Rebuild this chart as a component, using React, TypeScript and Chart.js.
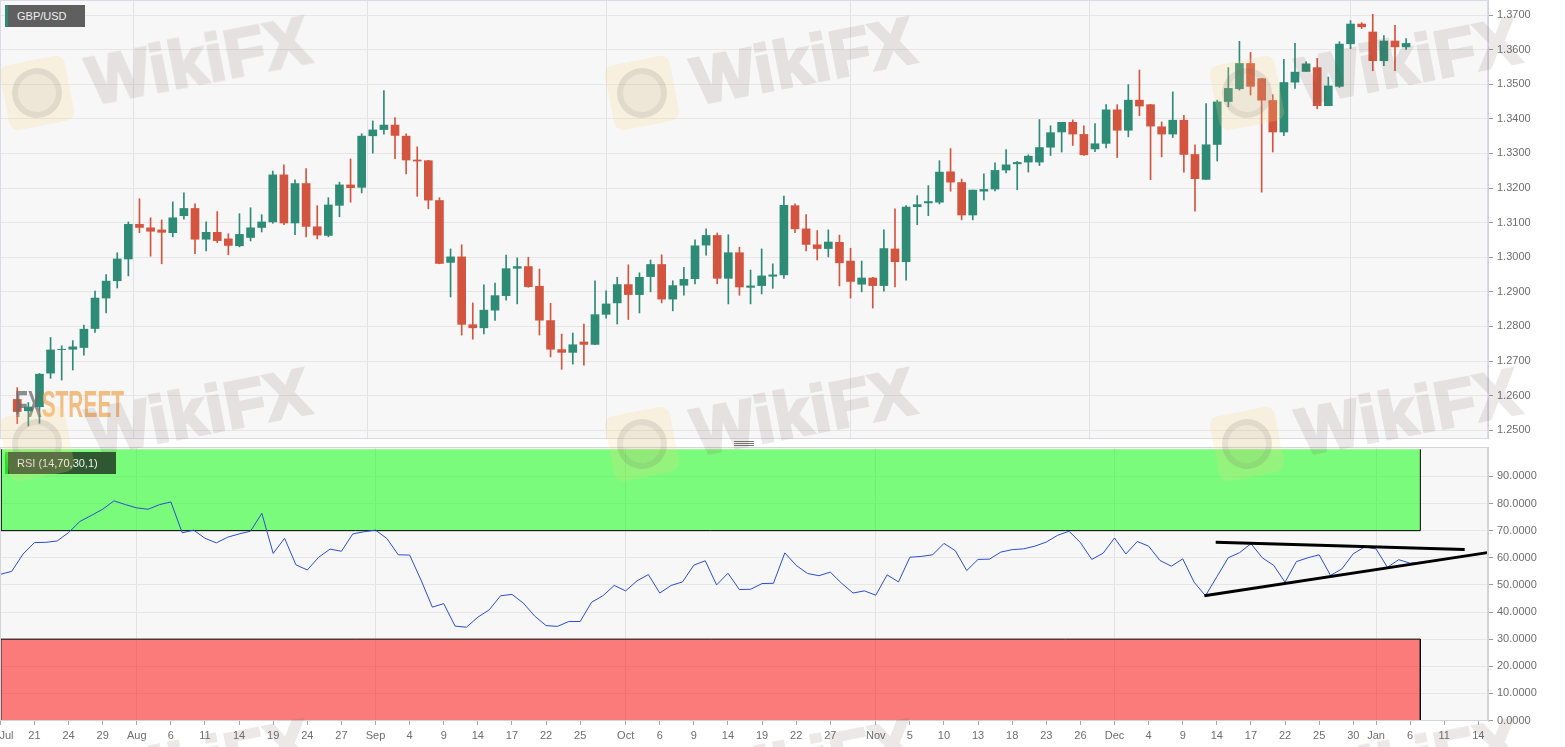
import React, { useEffect, useRef } from "react";
import { Chart, registerables } from "chart.js";

Chart.register(...registerables);

const opens = [1.2589,1.2556,1.2568,1.2665,1.2733,1.2734,1.2739,1.2794,1.2882,1.2932,1.2995,1.3095,1.3085,1.3079,1.3071,1.3120,1.3141,1.3052,1.3072,1.3053,1.3033,1.3057,1.3086,1.3102,1.3238,1.3099,1.3213,1.3088,1.3063,1.3150,1.3209,1.3202,1.3351,1.3369,1.3382,1.3350,1.3281,1.3279,1.3164,1.2985,1.3001,1.2805,1.2796,1.2847,1.2889,1.2968,1.2973,1.2916,1.2817,1.2733,1.2725,1.2755,1.2748,1.2835,1.2868,1.2921,1.2892,1.2944,1.2979,1.2879,1.2919,1.2938,1.3035,1.3063,1.2939,1.3013,1.2913,1.2918,1.2945,1.2949,1.3149,1.3082,1.3036,1.3025,1.3043,1.2989,1.2922,1.2940,1.2918,1.3024,1.2987,1.3146,1.3157,1.3159,1.3247,1.3216,1.3122,1.3191,1.3197,1.3252,1.3270,1.3275,1.3275,1.3318,1.3362,1.3390,1.3355,1.3313,1.3329,1.3426,1.3367,1.3454,1.3441,1.3377,1.3356,1.3396,1.3297,1.3225,1.3326,1.3450,1.3487,1.3560,1.3516,1.3453,1.3362,1.3506,1.3537,1.3548,1.3438,1.3494,1.3617,1.3674,1.3651,1.3568,1.3625,1.3608];
const highs = [1.2623,1.2580,1.2664,1.2768,1.2744,1.2759,1.2804,1.2902,1.2950,1.3013,1.3102,1.3169,1.3114,1.3108,1.3160,1.3186,1.3154,1.3102,1.3132,1.3068,1.3126,1.3143,1.3123,1.3249,1.3267,1.3224,1.3256,1.3149,1.3172,1.3217,1.3284,1.3357,1.3394,1.3482,1.3404,1.3357,1.3319,1.3280,1.3172,1.3024,1.3036,1.2868,1.2920,1.2925,1.3006,1.2998,1.3000,1.2966,1.2867,1.2778,1.2781,1.2807,1.2932,1.2903,1.2942,1.2978,1.2955,1.2992,1.3007,1.2932,1.2971,1.3050,1.3082,1.3070,1.3065,1.3029,1.2963,1.3024,1.2981,1.3177,1.3154,1.3123,1.3077,1.3079,1.3064,1.3026,1.2989,1.2942,1.3079,1.3140,1.3149,1.3178,1.3207,1.3279,1.3314,1.3226,1.3194,1.3241,1.3273,1.3311,1.3277,1.3296,1.3398,1.3380,1.3390,1.3397,1.3380,1.3386,1.3441,1.3441,1.3499,1.3541,1.3442,1.3391,1.3478,1.3410,1.3325,1.3444,1.3454,1.3548,1.3624,1.3592,1.3517,1.3470,1.3572,1.3618,1.3565,1.3575,1.3521,1.3623,1.3684,1.3678,1.3702,1.3641,1.3670,1.3632];
const lows = [1.2519,1.2512,1.2520,1.2650,1.2645,1.2674,1.2717,1.2783,1.2839,1.2911,1.2946,1.3071,1.3003,1.2981,1.3059,1.3110,1.3010,1.3018,1.3042,1.3007,1.3030,1.3047,1.3073,1.3098,1.3094,1.3065,1.3059,1.3053,1.3059,1.3117,1.3159,1.3186,1.3301,1.3356,1.3285,1.3241,1.3176,1.3140,1.2981,1.2885,1.2775,1.2763,1.2778,1.2817,1.2876,1.2865,1.2913,1.2775,1.2712,1.2676,1.2691,1.2688,1.2747,1.2824,1.2807,1.2820,1.2839,1.2900,1.2868,1.2845,1.2890,1.2923,1.3006,1.2923,1.2865,1.2890,1.2865,1.2894,1.2910,1.2939,1.3071,1.3018,1.2992,1.3001,1.2917,1.2882,1.2900,1.2853,1.2902,1.2914,1.2934,1.3094,1.3120,1.3154,1.3191,1.3108,1.3108,1.3166,1.3192,1.3244,1.3195,1.3246,1.3265,1.3294,1.3304,1.3323,1.3294,1.3305,1.3316,1.3288,1.3348,1.3409,1.3224,1.3290,1.3346,1.3246,1.3133,1.3225,1.3278,1.3435,1.3483,1.3469,1.3188,1.3304,1.3351,1.3488,1.3537,1.3429,1.3438,1.3491,1.3603,1.3661,1.3539,1.3554,1.3539,1.3601];
const closes = [1.2554,1.2567,1.2662,1.2732,1.2734,1.2741,1.2792,1.2882,1.2931,1.2995,1.3095,1.3086,1.3075,1.3072,1.3114,1.3141,1.3052,1.3072,1.3048,1.3034,1.3066,1.3085,1.3102,1.3238,1.3099,1.3213,1.3089,1.3064,1.3151,1.3209,1.3201,1.3350,1.3368,1.3382,1.3352,1.3281,1.3278,1.3165,1.2982,1.3001,1.2806,1.2796,1.2847,1.2889,1.2967,1.2973,1.2915,1.2818,1.2734,1.2725,1.2747,1.2748,1.2834,1.2865,1.2921,1.2892,1.2942,1.2979,1.2879,1.2918,1.2936,1.3033,1.3063,1.2939,1.3013,1.2914,1.2917,1.2946,1.2949,1.3150,1.3082,1.3037,1.3025,1.3044,1.2984,1.2930,1.2940,1.2918,1.3025,1.2987,1.3145,1.3152,1.3161,1.3246,1.3217,1.3122,1.3194,1.3196,1.3251,1.3267,1.3274,1.3292,1.3317,1.3360,1.3390,1.3356,1.3296,1.3328,1.3426,1.3367,1.3454,1.3437,1.3379,1.3356,1.3396,1.3297,1.3227,1.3325,1.3449,1.3488,1.3560,1.3494,1.3454,1.3362,1.3505,1.3535,1.3559,1.3438,1.3495,1.3616,1.3674,1.3666,1.3568,1.3625,1.3608,1.3618];

const rsiValues = [53.9,55.0,61.4,65.6,65.7,66.2,69.3,73.4,75.6,77.9,81.0,79.6,78.4,77.9,79.6,80.6,69.2,70.2,67.2,65.5,67.6,68.8,69.8,76.4,61.6,67.2,57.4,55.5,60.2,63.2,62.4,68.8,69.6,70.2,67.1,61.1,61.0,51.8,41.8,43.1,34.8,34.4,38.1,40.8,46.0,46.5,43.3,38.5,35.0,34.7,36.5,36.5,43.6,46.0,49.8,47.8,51.5,53.8,47.0,49.8,51.1,57.3,58.9,50.0,54.3,48.3,48.4,50.5,50.6,61.8,57.2,54.2,53.4,54.7,50.6,47.0,47.8,46.2,53.7,51.1,60.2,60.5,61.1,65.3,62.6,55.3,59.4,59.5,62.1,63.0,63.3,64.3,65.8,68.3,69.8,65.6,59.4,61.7,67.3,61.4,66.0,64.3,59.0,56.9,59.6,51.0,46.0,53.0,60.0,61.9,65.2,60.0,57.2,51.0,58.6,60.0,61.1,53.5,55.9,61.5,64.0,63.3,56.5,59.3,58.0,58.4];

const tickPositions = [0,3,6,9,12,15,18,21,24,27,30,33,36,39,42,45,48,51,55,58,61,64,67,70,73,77,80,83,86,89,92,95,98,101,104,107,110,113,116,119,121,124,127,130];
const tickLabels = ["    Jul","21","24","29","Aug","6","11","14","19","24","27","Sep","4","9","14","17","22","25","Oct","6","9","14","19","22","27","Nov","5","10","13","18","23","26","Dec","4","9","14","17","22","25","30","Jan","6","11","14"];
const monthStarts = [12,33,55,77,98,121];

const priceTicks = [1.25,1.26,1.27,1.28,1.29,1.30,1.31,1.32,1.33,1.34,1.35,1.36,1.37];
const rsiTicks = [0,10,20,30,40,50,60,70,80,90];
const overbought = [70,100];
const oversold = [0,30];
const bandEnd = 124.9;
const upperTrend = [{x:106.9,y:65.7},{x:128.8,y:63.1}];
const lowerTrend = [{x:105.9,y:46},{x:130.8,y:61.9}];

const xMin = -0.03;
const xMax = 130.85;
const GREEN = "#2e8b76";
const RED = "#d4553f";
const FONT = "'Liberation Sans', Arial, sans-serif";

const panelPlugin = {
  id: "panelBg",
  beforeDraw(chart: any) {
    const { ctx, chartArea: a } = chart;
    ctx.save();
    ctx.fillStyle = "#f7f7f7";
    ctx.fillRect(a.left, a.top, a.right - a.left, a.bottom - a.top);
    ctx.restore();
  },
  afterDraw(chart: any) {
    const { ctx, chartArea: a } = chart;
    ctx.save();
    ctx.strokeStyle = chart.options.plugins.panelBg.frame;
    ctx.lineWidth = 1;
    ctx.strokeRect(a.left + 0.5, a.top + 0.5, a.right - a.left - 1, a.bottom - a.top - 1);
    ctx.restore();
  },
};

function xScale(showLabels: boolean): any {
  return {
    type: "linear",
    min: xMin,
    max: xMax,
    afterBuildTicks: (s: any) => {
      s.ticks = tickPositions.map((value) => ({ value }));
    },
    afterFit: (s: any) => {
      s.height = showLabels ? 26 : 0;
      s.paddingLeft = 0;
      s.paddingRight = 0;
    },
    border: { display: false },
    grid: {
      drawTicks: showLabels,
      tickLength: 4,
      tickColor: "#a8a8b4",
      color: (c: any) => (c.tick && monthStarts.includes(c.tick.value) ? "#e2e2e6" : "transparent"),
    },
    ticks: {
      display: showLabels,
      autoSkip: false,
      maxRotation: 0,
      padding: 4,
      color: "#6e6e6e",
      font: { family: FONT, size: 11 },
      callback: (v: any) => {
        const i = tickPositions.indexOf(v);
        return i >= 0 ? tickLabels[i] : "";
      },
    },
  };
}

function yScale(min: number, max: number, list: number[], digits: number): any {
  return {
    position: "right",
    min,
    max,
    afterBuildTicks: (s: any) => {
      s.ticks = list.map((value) => ({ value }));
    },
    afterFit: (s: any) => {
      s.width = 77;
      s.paddingTop = 0;
      s.paddingBottom = 0;
    },
    border: { color: "#d0d2de", display: true },
    grid: { color: "#e6e6e6", tickLength: 5, tickColor: "#9a9a9a" },
    ticks: {
      autoSkip: false,
      padding: 4,
      color: "#6e6e6e",
      font: { family: FONT, size: 11 },
      callback: (v: any) => Number(v).toFixed(digits),
    },
  };
}

const line = (data: any[], color: string, width: number, extra: any = {}) => ({
  type: "line",
  data,
  borderColor: color,
  borderWidth: width,
  pointRadius: 0,
  tension: 0,
  fill: false,
  ...extra,
});

function Watermark({ x, y }: { x: number; y: number }) {
  return (
    <>
      <div
        style={{
          position: "absolute",
          left: x + 4,
          top: y + 60,
          width: 66,
          height: 66,
          borderRadius: 9,
          background: "rgba(250,215,130,0.2)",
          transform: "rotate(-11deg)",
        }}
      >
        <div
          style={{
            position: "absolute",
            left: 8,
            top: 8,
            width: 50,
            height: 50,
            boxSizing: "border-box",
            borderRadius: "50%",
            background: "rgba(115,105,100,0.07)",
            border: "6px solid rgba(115,105,100,0.1)",
          }}
        />
      </div>
      <div
        style={{
          position: "absolute",
          left: x + 86,
          top: y + 24,
          width: 240,
          lineHeight: "70px",
          whiteSpace: "nowrap",
          fontFamily: FONT,
          fontWeight: 700,
          fontSize: 66,
          letterSpacing: 1,
          WebkitTextStroke: "3px rgb(100,80,70)",
          color: "rgb(100,80,70)",
          opacity: 0.13,
          transform: "rotate(-11deg)",
        }}
      >
        WikiFX
      </div>
    </>
  );
}

const tag = (top: number, width: number, bg: string, stripe: string): React.CSSProperties => ({
  position: "absolute",
  left: 5,
  top,
  width,
  height: 22,
  lineHeight: "22px",
  paddingLeft: 9,
  boxSizing: "border-box",
  borderLeft: `3px solid ${stripe}`,
  background: bg,
  color: "#f0f0f0",
  fontFamily: FONT,
  fontSize: 11,
  whiteSpace: "nowrap",
});

export default function App() {
  const topRef = useRef<HTMLCanvasElement>(null);
  const botRef = useRef<HTMLCanvasElement>(null);

  useEffect(() => {
    const bodyColor = (c: any) => (closes[c.dataIndex] >= opens[c.dataIndex] ? GREEN : RED);
    const top = new Chart(topRef.current!, {
      type: "bar",
      plugins: [panelPlugin],
      data: {
        datasets: [
          {
            data: opens.map((o, i) => ({ x: i, y: [Math.min(o, closes[i]), Math.max(o, closes[i])] })),
            backgroundColor: bodyColor,
            barThickness: 8,
            grouped: false,
          },
          {
            data: lows.map((l, i) => ({ x: i, y: [l, highs[i]] })),
            backgroundColor: bodyColor,
            barThickness: 1,
            grouped: false,
          },
        ],
      } as any,
      options: {
        responsive: false,
        animation: false,
        events: [],
        layout: { padding: 0 },
        plugins: { legend: { display: false }, tooltip: { enabled: false }, panelBg: { frame: "#d8dae8" } } as any,
        scales: { x: xScale(false), y: yScale(1.24746, 1.37435, priceTicks, 4) },
      },
    });

    const bottom = new Chart(botRef.current!, {
      type: "line",
      plugins: [panelPlugin],
      data: {
        datasets: [
          line(upperTrend, "#000", 3),
          line(lowerTrend, "#000", 3),
          line(rsiValues.map((y, x) => ({ x, y })), "#2a4fd0", 1),
          line(
            [{ x: 0.05, y: overbought[1] }, { x: 0.05, y: overbought[0] }, { x: bandEnd, y: overbought[0] }, { x: bandEnd, y: overbought[1] }],
            "#000",
            1,
          ),
          line(
            [{ x: 0.05, y: oversold[0] }, { x: 0.05, y: oversold[1] }, { x: bandEnd, y: oversold[1] }, { x: bandEnd, y: oversold[0] }],
            "#000",
            1,
          ),
          line([{ x: 0, y: overbought[1] }, { x: bandEnd, y: overbought[1] }], "transparent", 0, {
            fill: { target: { value: overbought[0] } },
            backgroundColor: "rgba(0,255,0,0.5)",
          }),
          line([{ x: 0, y: oversold[1] }, { x: bandEnd, y: oversold[1] }], "transparent", 0, {
            fill: { target: { value: oversold[0] } },
            backgroundColor: "rgba(255,0,0,0.5)",
          }),
        ],
      } as any,
      options: {
        responsive: false,
        animation: false,
        events: [],
        layout: { padding: 0 },
        plugins: { legend: { display: false }, tooltip: { enabled: false }, panelBg: { frame: "#d4d4dc" } } as any,
        scales: { x: xScale(true), y: yScale(-0.18, 100.85, rsiTicks, 4) },
      },
    });

    return () => {
      top.destroy();
      bottom.destroy();
    };
  }, []);

  const tiles: { x: number; y: number }[] = [];
  for (const y of [0, 351, 702]) for (const x of [0, 605, 1210]) tiles.push({ x, y });

  return (
    <div style={{ position: "absolute", left: 0, top: 0, width: 1565, height: 747, overflow: "hidden", background: "#fff" }}>
      <canvas ref={topRef} width={1565} height={439} style={{ position: "absolute", left: 0, top: 0, display: "block" }} />
      <canvas ref={botRef} width={1565} height={300} style={{ position: "absolute", left: 0, top: 447, display: "block" }} />
      {[441, 443, 445].map((y) => (
        <div key={y} style={{ position: "absolute", left: 734, top: y, width: 20, height: 1, background: "#777" }} />
      ))}
      <div style={tag(5, 80, "#5f5f5f", GREEN)}>GBP/USD</div>
      <div style={tag(452, 111, "rgba(40,70,40,0.9)", "#22dd22")}>RSI (14,70,30,1)</div>
      <div
        style={{
          position: "absolute",
          left: 15,
          top: 384,
          lineHeight: "42px",
          fontFamily: FONT,
          fontWeight: 700,
          fontSize: 36,
          transform: "scaleX(0.58)",
          transformOrigin: "left center",
          whiteSpace: "nowrap",
        }}
      >
        <span style={{ color: "rgba(105,105,105,0.75)" }}>FX</span>
        <span style={{ color: "rgba(240,170,90,0.75)" }}>STREET</span>
      </div>
      {tiles.map((t) => (
        <Watermark key={`${t.x}-${t.y}`} x={t.x} y={t.y} />
      ))}
    </div>
  );
}
